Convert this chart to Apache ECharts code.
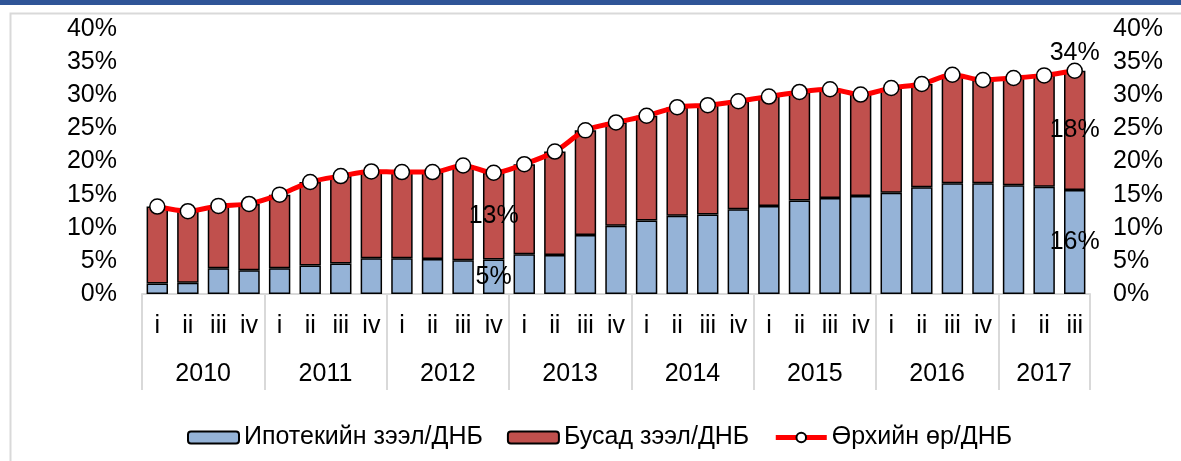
<!DOCTYPE html>
<html>
<head>
<meta charset="utf-8">
<script src="https://cdn.jsdelivr.net/npm/echarts@6/dist/echarts.min.js"></script>
<style>
  html, body { margin: 0; padding: 0; background: #fff; }
  #chart { width: 1181px; height: 461px; }
</style>
</head>
<body>
<div id="chart"></div>
<script>
'use strict';

// quarters 2010 i .. 2017 iii
let quarters = ['i','ii','iii','iv','i','ii','iii','iv','i','ii','iii','iv','i','ii','iii','iv',
                'i','ii','iii','iv','i','ii','iii','iv','i','ii','iii','iv','i','ii','iii'];
let years = ['2010','2011','2012','2013','2014','2015','2016','2017'];
let yearStarts = [0, 4, 8, 12, 16, 20, 24, 28, 31];

// mortgage loans / GDP, %
let mortgage = [1.6, 1.7, 3.9, 3.6, 3.9, 4.3, 4.6, 5.4, 5.4, 5.3, 5.1, 5.2, 6.0, 5.9, 8.9, 10.3,
                11.1, 11.8, 12.0, 12.8, 13.3, 14.1, 14.5, 14.8, 15.3, 16.1, 16.7, 16.7, 16.4, 16.2, 15.7];
// other loans / GDP, %
let other = [11.6, 10.8, 9.4, 10.0, 11.1, 12.6, 13.2, 13.1, 13.0, 13.1, 14.3, 13.1, 13.6, 15.6, 15.8, 15.6,
             15.8, 16.4, 16.5, 16.3, 16.5, 16.4, 16.4, 15.3, 15.8, 15.6, 16.4, 15.6, 16.2, 16.8, 18.0];
// household debt / GDP, %
let debt = [13.2, 12.5, 13.3, 13.6, 15.0, 16.9, 17.8, 18.5, 18.4, 18.4, 19.4, 18.3, 19.6, 21.5, 24.7, 25.9,
            26.9, 28.2, 28.5, 29.1, 29.8, 30.5, 30.9, 30.1, 31.1, 31.7, 33.1, 32.3, 32.6, 33.0, 33.7];

let labelled = [11, 30];
let lineLabelled = [30];

let font = 'Liberation Sans, Arial, sans-serif';
let fs = 25;

let withLabels = function(arr, idxs){
    return arr.map(function(v, i){
        if(idxs.indexOf(i) >= 0){
            return {value: v, label: {show: true}};
        }
        return v;
    });
};

let yearLabelPos = years.map(function(y, i){
    return (yearStarts[i] + yearStarts[i + 1]) / 2;
});

let myChart = echarts.init(document.getElementById('chart'), null, {renderer: 'canvas'});

let pctLabel = {
    show: false,
    position: 'inside',
    color: '#000',
    fontSize: fs,
    fontFamily: font,
    formatter: function(p){ return Math.round(p.value) + '%'; }
};

let option = {
    animation: false,
    textStyle: {fontFamily: font},
    graphic: [
        {type: 'rect', left: 0, top: 0, shape: {width: 1181, height: 5}, style: {fill: '#2F5597'}},
        {type: 'rect', left: 8, top: 11, shape: {width: 1200, height: 470},
         style: {fill: 'none', stroke: '#D9D9D9', lineWidth: 2}}
    ],
    grid: {left: 142, right: 91, top: 29, bottom: 167},
    legend: {
        top: 420,
        left: 182,
        itemWidth: 51,
        itemHeight: 12,
        itemGap: 24,
        textStyle: {fontSize: fs, color: '#000', fontFamily: font},
        data: [
            'Ипотекийн зээл/ДНБ',
            'Бусад зээл/ДНБ',
            {name: 'Өрхийн өр/ДНБ', itemWidth: 55, itemHeight: 15,
             lineStyle: {width: 5, color: '#FF0000'}}
        ]
    },
    xAxis: [
        {
            type: 'category',
            data: quarters,
            axisLine: {lineStyle: {color: '#D9D9D9', width: 2}},
            axisTick: {show: false},
            axisLabel: {color: '#000', fontSize: fs, margin: 20, interval: 0, fontFamily: font}
        },
        {
            type: 'value',
            min: 0,
            max: 31,
            position: 'bottom',
            splitLine: {show: false},
            axisLine: {show: false},
            axisTick: {show: true, customValues: yearStarts, length: 96,
                       lineStyle: {color: '#D9D9D9', width: 2}},
            axisLabel: {
                customValues: yearLabelPos,
                color: '#000', fontSize: fs, margin: 68, fontFamily: font,
                formatter: function(v){
                    return years[yearLabelPos.indexOf(v)];
                }
            }
        }
    ],
    yAxis: [
        {
            type: 'value', min: 0, max: 40, interval: 5,
            splitLine: {show: false},
            axisLine: {show: false},
            axisTick: {show: false},
            axisLabel: {formatter: '{value}%', color: '#000', fontSize: fs, margin: 25, fontFamily: font}
        },
        {
            type: 'value', min: 0, max: 40, interval: 5, position: 'right',
            splitLine: {show: false},
            axisLine: {show: false},
            axisTick: {show: false},
            axisLabel: {formatter: '{value}%', color: '#000', fontSize: fs, margin: 23, fontFamily: font}
        }
    ],
    series: [
        {
            name: 'Ипотекийн зээл/ДНБ',
            type: 'bar',
            stack: 'debt',
            barCategoryGap: '30%',
            itemStyle: {color: '#95B3D7', borderColor: '#000', borderWidth: 1.5},
            label: pctLabel,
            data: withLabels(mortgage, labelled)
        },
        {
            name: 'Бусад зээл/ДНБ',
            type: 'bar',
            stack: 'debt',
            itemStyle: {color: '#C0504D', borderColor: '#000', borderWidth: 1.5},
            label: pctLabel,
            data: withLabels(other, labelled)
        },
        {
            name: 'Өрхийн өр/ДНБ',
            type: 'line',
            smooth: 0.3,
            z: 5,
            symbol: 'circle',
            symbolSize: 15,
            lineStyle: {color: '#FF0000', width: 5},
            itemStyle: {color: '#fff', borderColor: '#000', borderWidth: 1.5},
            label: Object.assign({}, pctLabel, {position: 'top', distance: -3}),
            data: withLabels(debt, lineLabelled)
        }
    ]
};

myChart.setOption(option);
</script>
</body>
</html>
